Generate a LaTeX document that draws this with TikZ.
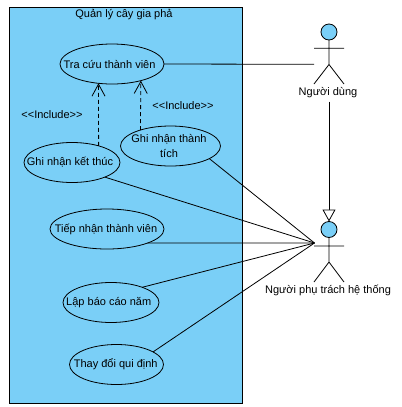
\documentclass[tikz,border=0pt]{standalone}
\usepackage{fontspec}
\setmainfont{Liberation Sans}
\usetikzlibrary{shapes.geometric,arrows.meta}
\definecolor{ucblue}{RGB}{122,207,247}
\tikzset{
  x=1bp,y=-1bp,
  every node/.style={font=\fontsize{11bp}{15bp}\selectfont,inner sep=0pt,outer sep=0pt,text=black},
  usecase/.style={draw=black,ellipse,line width=0.8bp,align=center,inner xsep=-30bp,inner ysep=-6bp,minimum height=40bp},
  actorhead/.style={draw=black,circle,fill=ucblue,line width=0.8bp,minimum size=16bp},
  limb/.style={line width=0.8bp,draw=black},
  assoc/.style={line width=0.8bp,draw=black},
  incl/.style={line width=0.8bp,draw=black,dash pattern=on 4bp off 3bp,-{Straight Barb[length=12bp,width=13bp,line width=0.8bp]}},
  gener/.style={line width=0.8bp,draw=black,-{Triangle[open,length=12bp,width=13bp,line width=0.8bp,fill=white]}}
}
\begin{document}
\begin{tikzpicture}
\useasboundingbox (0,0) rectangle (402,407);
\fill[white] (0,0) rectangle (402,407);
\node[draw=black,fill=ucblue,line width=0.9bp,minimum width=233bp,minimum height=395.5bp,anchor=north west] (sys) at (9.5,7.5) {};
\node (title) at (124,15) {Quản lý cây gia phả};
\node[usecase,minimum width=104bp] (tc) at (112,64) {Tra cứu thành viên\kern5bp};
\node[usecase,minimum width=96bp] (kt) at (72,162.5) {Ghi nhận kết thúc\kern4bp};
\node[usecase,minimum width=100bp] (tt) at (170.5,146) {Ghi nhận thành\kern3bp\\tích\kern3bp};
\node[usecase,minimum width=114bp] (tn) at (107,229) {Tiếp nhận thành viên\kern2bp};
\node[usecase,minimum width=96bp] (lb) at (111,302.5) {Lập báo cáo năm\kern4.5bp};
\node[usecase,minimum width=94bp] (td) at (116.5,364.5) {Thay đổi qui định\kern1.5bp};
\node (incA) at (52,115) {<{}<Include>{}>};
\node (incB) at (183,106) {<{}<Include>{}>};
% actor 1
\node[actorhead] (h1) at (329,32) {};
\coordinate (w1) at (314,48.3);
\coordinate (e1) at (344,48.3);
\coordinate (b1) at (329,64.5);
\coordinate (l1) at (314,84);
\coordinate (r1) at (344,84);
\coordinate (a1) at (314,64.3);
\draw[limb] (h1.south) -- (b1) (w1) -- (e1) (l1) -- (b1) -- (r1);
\node (lab1) at (328,92.5) {Người dùng};
% actor 2
\node[actorhead] (h2) at (329,229.5) {};
\coordinate (w2) at (314,246);
\coordinate (e2) at (344,246);
\coordinate (b2) at (329,262);
\coordinate (l2) at (314,282);
\coordinate (r2) at (344,282);
\coordinate (a2) at (314.5,243);
\draw[limb] (h2.south) -- (b2) (w2) -- (e2) (l2) -- (b2) -- (r2);
\node (lab2) at (328,290.7) {Người phụ trách hệ thống};
% connectors
\draw[assoc] (tc.east) -- (a1);
\draw[assoc] (tt.-18.3) -- (a2);
\draw[assoc] (kt.-24.2) -- (a2);
\draw[assoc] (tn.-19.2) -- (a2);
\draw[assoc] (lb.26) -- (a2);
\draw[assoc] (td.19.8) -- (a2);
\draw[incl] (kt.32.4) -- (tc.-125.4);
\draw[incl] (tt.152.2) -- (tc.-30.7);
\draw[gener] (lab1.south -| h1.south) ++(0,4) -- (h2.north);
\end{tikzpicture}
\end{document}
